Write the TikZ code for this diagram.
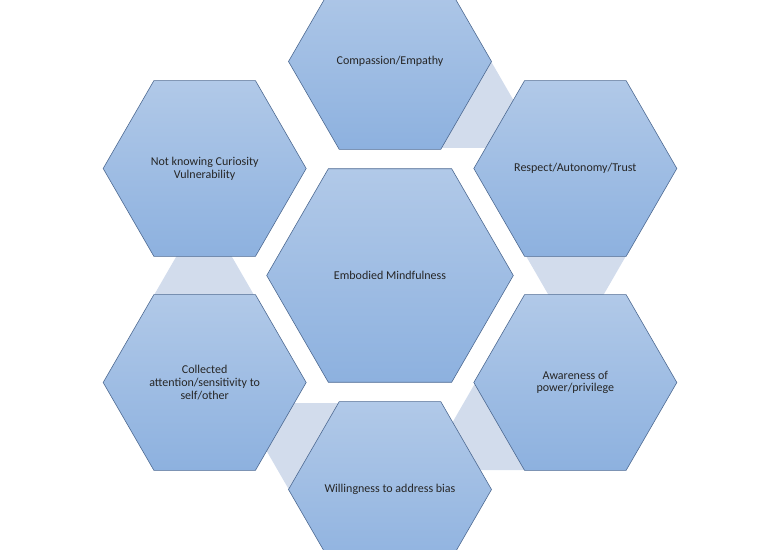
\documentclass[tikz,border=0pt]{standalone}
\usepackage{fontspec}
\setmainfont{Carlito}
\usetikzlibrary{calc,shapes.geometric}

\definecolor{hexTop}{HTML}{B1C9E8}
\definecolor{hexBot}{HTML}{8DB1DF}
\definecolor{hexLine}{HTML}{4E6A92}
\definecolor{bandFill}{HTML}{D2DCEC}

\tikzset{
  hexbox/.style={regular polygon, regular polygon sides=6, minimum size=203bp,
    inner sep=0pt, draw=hexLine, line width=0.6bp,
    top color=hexTop, bottom color=hexBot,
    align=center, text=black!85, font=\fontsize{12bp}{12.7bp}\selectfont},
  bandhex/.style={regular polygon, regular polygon sides=6, minimum size=100bp,
    inner sep=0pt, fill=bandFill},
}

\begin{document}
\begin{tikzpicture}[x=1bp,y=1bp]

\useasboundingbox (0,0) rectangle (780,550);
\clip (0,0) rectangle (780,550);

\coordinate (M) at (390,274.5);

\def\ringR{214}
\def\bandR{187}
\def\bandShift{24}

% light bands between neighbours, behind the ring
\foreach \a/\n in {90/1,30/2,-30/3,-90/4,210/5} {
  \pgfmathsetmacro\b{\a-\bandShift}
  \node[bandhex] (band\n) at ($(M)+(\b:\bandR)$) {};
}

\node[hexbox, minimum size=246.6bp] (mind) at (M) {Embodied Mindfulness};

\node[hexbox] (comp) at ($(M)+(90:\ringR)$) {Compassion/Empathy};
\node[hexbox] (resp) at ($(M)+(30:\ringR)$) {Respect/Autonomy/Trust};
\node[hexbox] (aware) at ($(M)+(-30:\ringR)$) {Awareness of\\power/privilege};
% long line: keep the hexagon at ring size
\node[hexbox] (will) at ($(M)+(-90:\ringR)$) {\makebox[0pt]{Willingness to address bias}};
\node[hexbox] (coll) at ($(M)+(210:\ringR)$) {Collected\\attention/sensitivity to\\self/other};
\node[hexbox] (know) at ($(M)+(150:\ringR)$) {Not knowing Curiosity\\Vulnerability};

\end{tikzpicture}
\end{document}
